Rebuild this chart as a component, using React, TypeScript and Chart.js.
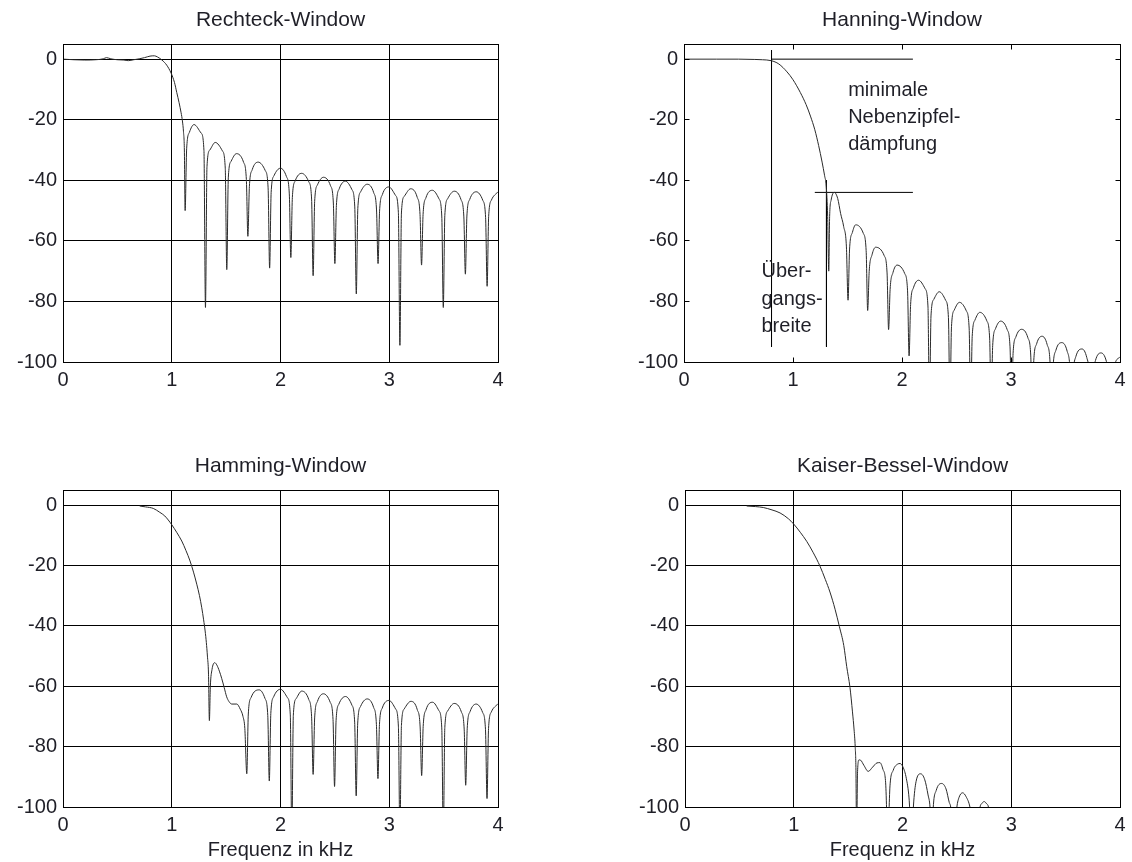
import { useEffect, useRef } from "react";
import { Chart, registerables } from "chart.js";

Chart.register(...registerables);

type Pt = [number, number];

// Axis layout: frequency in kHz, level in dB
const FREQ_TICKS = [0, 1, 2, 3, 4];
const LEVEL_TICKS = [-100, -80, -60, -40, -20, 0];

// Rectangular window response [kHz, dB]
const RECHTECK: Pt[] = [
  [0, 0], [0.05, -0.1], [0.1, -0.2], [0.2, -0.3], [0.3, -0.2], [0.37, 0.1], [0.4, 0.5], [0.44, 0.1],
  [0.5, -0.2], [0.56, -0.3], [0.6, -0.5], [0.65, -0.2], [0.7, 0.1], [0.75, 0.5], [0.8, 1.0], [0.84, 1.1],
  [0.87, 0.7], [0.91, -0.3], [0.954, -2], [0.994, -4.6], [1.025, -7.7], [1.046, -11], [1.067, -14.3],
  [1.086, -17.7], [1.098, -20.4], [1.108, -24], [1.116, -30], [1.123, -50],
  [1.137, -29.6], [1.163, -24.1], [1.205, -21.6], [1.27, -24.4], [1.296, -30.1], [1.31, -82],
  [1.324, -35.5], [1.35, -30], [1.4, -27.5], [1.466, -30.3], [1.492, -36], [1.506, -69.5],
  [1.52, -39.2], [1.546, -33.7], [1.595, -31.2], [1.66, -34], [1.686, -39.7], [1.7, -58.5],
  [1.714, -42], [1.74, -36.5], [1.795, -34], [1.86, -36.8], [1.886, -42.5], [1.9, -69],
  [1.914, -44], [1.94, -38.5], [2.0, -36], [2.055, -38.8], [2.081, -44.5], [2.095, -65.5],
  [2.109, -45.7], [2.135, -40.2], [2.195, -37.7], [2.26, -40.5], [2.286, -46.2], [2.3, -71.5],
  [2.314, -47], [2.34, -41.5], [2.395, -39], [2.46, -41.8], [2.486, -47.5], [2.5, -67.5],
  [2.514, -48.3], [2.54, -42.8], [2.597, -40.3], [2.657, -43.1], [2.683, -48.8], [2.697, -77.5],
  [2.711, -49.3], [2.737, -43.8], [2.797, -41.3], [2.857, -44.1], [2.883, -49.8], [2.897, -67.5],
  [2.911, -50.2], [2.937, -44.7], [2.997, -42.2], [3.058, -45], [3.084, -50.7], [3.098, -94.5],
  [3.112, -50.8], [3.138, -45.3], [3.197, -42.8], [3.257, -45.6], [3.283, -51.3], [3.297, -68],
  [3.311, -51.3], [3.337, -45.8], [3.397, -43.3], [3.457, -46.1], [3.483, -51.8], [3.497, -82],
  [3.511, -51.6], [3.537, -46.1], [3.598, -43.6], [3.66, -46.4], [3.686, -52.1], [3.7, -71],
  [3.714, -51.8], [3.74, -46.3], [3.8, -43.8], [3.86, -46.6], [3.886, -52.3], [3.9, -75],
  [3.914, -52], [3.94, -46.5], [4.0, -43.8],
];

// Hanning window response
const HANNING: Pt[] = [
  [0, 0], [0.3, 0], [0.5, 0], [0.65, -0.1], [0.72, -0.2], [0.8, -0.5], [0.87, -1.6], [0.945, -4.2],
  [1.0, -6.8], [1.067, -11], [1.12, -15], [1.16, -18.8], [1.2, -23.3], [1.235, -28.5], [1.267, -34],
  [1.29, -38.5], [1.305, -42], [1.318, -52], [1.328, -70],
  [1.336, -52], [1.35, -46.5], [1.378, -44], [1.41, -46], [1.437, -51], [1.465, -55.3], [1.49, -62], [1.505, -79.6],
  [1.519, -62.7], [1.545, -57.2], [1.575, -54.7], [1.645, -57.5], [1.671, -63.2], [1.685, -83],
  [1.699, -70.1], [1.725, -64.6], [1.758, -62.1], [1.837, -64.9], [1.863, -70.6], [1.877, -89.3],
  [1.891, -76], [1.917, -70.5], [1.955, -68], [2.025, -70.8], [2.051, -76.5], [2.065, -98],
  [2.079, -81], [2.105, -75.5], [2.152, -73], [2.212, -75.8], [2.238, -81.5], [2.252, -115],
  [2.266, -84.8], [2.292, -79.3], [2.342, -76.8], [2.4, -79.6], [2.426, -85.3], [2.44, -115],
  [2.454, -88.3], [2.48, -82.8], [2.527, -80.3], [2.59, -83.1], [2.616, -88.8], [2.63, -115],
  [2.644, -91.6], [2.67, -86.1], [2.714, -83.6], [2.778, -86.4], [2.804, -92.1], [2.818, -115],
  [2.832, -94.5], [2.858, -89], [2.905, -86.5], [2.965, -89.3], [2.991, -95], [3.005, -115],
  [3.019, -97.2], [3.045, -91.7], [3.097, -89.2], [3.155, -92], [3.181, -97.7], [3.195, -115],
  [3.209, -99.5], [3.235, -94], [3.285, -91.5], [3.332, -94.3], [3.358, -100], [3.372, -115],
  [3.386, -101.6], [3.412, -96.1], [3.467, -93.6], [3.515, -96.4], [3.541, -102.1], [3.555, -115],
  [3.569, -103.7], [3.595, -98.2], [3.652, -95.7], [3.695, -98.5], [3.721, -104.2], [3.735, -115],
  [3.749, -105], [3.775, -99.5], [3.825, -97], [3.875, -99.8], [3.901, -105.5], [3.915, -115],
  [3.929, -106], [3.955, -100.5], [4.0, -98.3],
];

// Hamming window response
const HAMMING: Pt[] = [
  [0.705, -0.3], [0.76, -0.6], [0.83, -1.1], [0.89, -2.4], [0.936, -3.6], [1.0, -6.5], [1.045, -9],
  [1.092, -11.9], [1.13, -15], [1.168, -18.5], [1.2, -22.2], [1.23, -26.2], [1.255, -30], [1.276, -34],
  [1.293, -38], [1.307, -41.7], [1.318, -45.5], [1.328, -50], [1.338, -56], [1.346, -71.4],
  [1.355, -60], [1.37, -54.5], [1.395, -52.2], [1.415, -53], [1.438, -55], [1.46, -57.5], [1.482, -60.4],
  [1.505, -63.5], [1.525, -65], [1.552, -65.9], [1.598, -65.9], [1.63, -67.6], [1.655, -70], [1.672, -74], [1.69, -89],
  [1.704, -69.2], [1.73, -63.7], [1.805, -61.2], [1.857, -64], [1.883, -69.7], [1.897, -91.4],
  [1.911, -69], [1.937, -63.5], [2.0, -61], [2.064, -63.8], [2.09, -69.5], [2.104, -110],
  [2.118, -69.6], [2.144, -64.1], [2.195, -61.6], [2.26, -64.4], [2.286, -70.1], [2.3, -89.2],
  [2.314, -70.5], [2.34, -65], [2.395, -62.5], [2.457, -65.3], [2.483, -71], [2.497, -93.2],
  [2.511, -71.4], [2.537, -65.9], [2.598, -63.4], [2.656, -66.2], [2.682, -71.9], [2.696, -96.3],
  [2.71, -72.2], [2.736, -66.7], [2.797, -64.2], [2.856, -67], [2.882, -72.7], [2.896, -90.6],
  [2.91, -72.7], [2.936, -67.2], [2.998, -64.7], [3.058, -67.5], [3.084, -73.2], [3.098, -110],
  [3.112, -73], [3.138, -67.5], [3.199, -65], [3.258, -67.8], [3.284, -73.5], [3.298, -89.6],
  [3.312, -73.3], [3.338, -67.8], [3.399, -65.3], [3.457, -68.1], [3.483, -73.8], [3.497, -110],
  [3.511, -73.7], [3.537, -68.2], [3.597, -65.7], [3.663, -68.5], [3.689, -74.2], [3.703, -92.8],
  [3.717, -73.9], [3.743, -68.4], [3.799, -65.9], [3.859, -68.7], [3.885, -74.4], [3.899, -97.2],
  [3.913, -74], [3.939, -68.5], [4.0, -65.8],
];

// Kaiser-Bessel window response
const KAISER: Pt[] = [
  [0.567, -0.3], [0.65, -0.5], [0.72, -0.8], [0.8, -1.6], [0.874, -2.6], [0.95, -4.5], [1.0, -6.3],
  [1.06, -9], [1.119, -12], [1.18, -15.8], [1.241, -20.2], [1.29, -24.6], [1.333, -28.8], [1.38, -34.5],
  [1.42, -40.3], [1.46, -46.5], [1.487, -53.5], [1.517, -60.4], [1.54, -68.5], [1.555, -74.5],
  [1.565, -80], [1.572, -88], [1.578, -112],
  [1.586, -89], [1.6, -84.4], [1.615, -84.5], [1.645, -86.2], [1.685, -88.2], [1.725, -86.8],
  [1.765, -85.4], [1.792, -85.3], [1.82, -87.5], [1.845, -92], [1.865, -110],
  [1.885, -93], [1.915, -87.8], [1.955, -85.8], [1.977, -85.6], [2.005, -86.8], [2.035, -90.5], [2.06, -97], [2.085, -112],
  [2.1, -100], [2.125, -91.5], [2.167, -89], [2.205, -91], [2.235, -96], [2.253, -100], [2.27, -112],
  [2.283, -100], [2.31, -94.5], [2.36, -92.2], [2.4, -94], [2.43, -98.5], [2.443, -100], [2.47, -112],
  [2.5, -100], [2.52, -96.8], [2.553, -95.3], [2.585, -96.6], [2.62, -100], [2.67, -112],
  [2.713, -100], [2.73, -98.8], [2.752, -98.2], [2.775, -99], [2.79, -100], [2.82, -112],
];

// Hanning markings: transition width and minimum sidelobe attenuation
const TRANSITION_START: Pt[] = [[0.803, 3], [0.803, -95]];
const TRANSITION_END: Pt[] = [[1.307, -40], [1.307, -95]];
const PASSBAND_LEVEL: Pt[] = [[0.803, 0], [2.1, 0]];
const SIDELOBE_LEVEL: Pt[] = [[1.2, -44], [2.1, -44]];
const SIDELOBE_TEXT = ["minimale", "Nebenzipfel-", "dämpfung"];
const SIDELOBE_TEXT_X = 1.506;
const SIDELOBE_TEXT_Y = [-10.5, -19.3, -28.2];
const TRANSITION_TEXT = ["Über-", "gangs-", "breite"];
const TRANSITION_TEXT_X = 0.711;
const TRANSITION_TEXT_Y = [-70.1, -79.3, -88.3];

const FONT = "'Liberation Sans', Arial, Helvetica, sans-serif";
const INK = "#1f1f27";
const CURVE = "#2a2a2a";

Chart.defaults.font.family = FONT;

type Note = { lines: string[]; x: number; ys: number[] };

type PanelProps = {
  title: string;
  curve: Pt[];
  left: number;
  top: number;
  width: number;
  height: number;
  padRight: number;
  axisHeight: number;
  grid: boolean;
  xTitle?: string;
  marks?: Pt[][];
  notes?: Note[];
};

const align = (v: number) => Math.round(v - 0.5) + 0.5;

function Panel(p: PanelProps) {
  const ref = useRef<HTMLCanvasElement>(null);

  useEffect(() => {
    const canvas = ref.current;
    if (!canvas) return;
    const toXY = (pts: Pt[]) => pts.map(([x, y]) => ({ x, y }));

    // Frame around the plot area, inward tick marks (no grid) and text notes
    const decorations = {
      id: "decorations",
      afterDraw(chart: any) {
        const { ctx, chartArea: a, scales } = chart;
        const sx = scales.x;
        const sy = scales.y;
        ctx.save();
        ctx.strokeStyle = "#000";
        ctx.lineWidth = 1;
        const l = align(a.left), r = align(a.right), t = align(a.top), b = align(a.bottom);
        ctx.strokeRect(l, t, r - l, b - t);
        if (!p.grid) {
          const len = 5;
          ctx.beginPath();
          for (const v of FREQ_TICKS) {
            const px = align(sx.getPixelForValue(v));
            ctx.moveTo(px, b);
            ctx.lineTo(px, b - len);
            ctx.moveTo(px, t);
            ctx.lineTo(px, t + len);
          }
          for (const v of LEVEL_TICKS) {
            const py = align(sy.getPixelForValue(v));
            ctx.moveTo(l, py);
            ctx.lineTo(l + len, py);
            ctx.moveTo(r, py);
            ctx.lineTo(r - len, py);
          }
          ctx.stroke();
        }
        if (p.notes) {
          ctx.fillStyle = INK;
          ctx.font = `20px ${FONT}`;
          ctx.textAlign = "left";
          ctx.textBaseline = "middle";
          for (const n of p.notes) {
            n.lines.forEach((line, i) => {
              ctx.fillText(line, sx.getPixelForValue(n.x), sy.getPixelForValue(n.ys[i]));
            });
          }
        }
        ctx.restore();
      },
    };

    const chart = new Chart(canvas, {
      type: "line",
      data: {
        datasets: [
          {
            data: toXY(p.curve),
            borderColor: CURVE,
            borderWidth: 1,
            pointRadius: 0,
            cubicInterpolationMode: "monotone",
          },
          ...(p.marks ?? []).map((m) => ({
            data: toXY(m),
            borderColor: "#000",
            borderWidth: 1,
            pointRadius: 0,
            tension: 0,
          })),
        ],
      },
      options: {
        animation: false,
        responsive: false,
        events: [],
        layout: { padding: { top: 0, left: 0, right: p.padRight, bottom: 0 } },
        plugins: {
          legend: { display: false },
          tooltip: { enabled: false },
          title: {
            display: true,
            text: p.title,
            color: INK,
            fullSize: false,
            font: { size: 21, weight: "normal", lineHeight: 24 / 21 },
            padding: { top: 8, bottom: 12 },
          },
        },
        scales: {
          x: {
            type: "linear",
            min: 0,
            max: 4,
            afterBuildTicks: (s: any) => {
              s.ticks = FREQ_TICKS.map((value) => ({ value }));
            },
            afterFit: (s: any) => {
              s.height = p.axisHeight;
            },
            ticks: {
              autoSkip: false,
              maxRotation: 0,
              padding: 6,
              color: INK,
              font: { size: 20 },
              callback: (v: any) => String(v),
            },
            grid: { display: p.grid, color: "#000", lineWidth: 1, drawTicks: false },
            border: { display: false },
            title: p.xTitle
              ? {
                  display: true,
                  text: p.xTitle,
                  color: INK,
                  font: { size: 20 },
                  padding: { top: 0, bottom: 0 },
                }
              : { display: false },
          },
          y: {
            type: "linear",
            min: -100,
            max: 5,
            afterBuildTicks: (s: any) => {
              s.ticks = LEVEL_TICKS.map((value) => ({ value }));
            },
            afterFit: (s: any) => {
              s.width = 63;
            },
            ticks: {
              padding: 6,
              color: INK,
              font: { size: 20 },
              callback: (v: any) => String(v),
            },
            grid: { display: p.grid, color: "#000", lineWidth: 1, drawTicks: false },
            border: { display: false },
          },
        },
      },
      plugins: [decorations],
    } as any);

    return () => chart.destroy();
  }, [p]);

  return (
    <canvas
      ref={ref}
      width={p.width}
      height={p.height}
      style={{ position: "absolute", left: p.left, top: p.top, width: p.width, height: p.height }}
    />
  );
}

const HANNING_MARKS = [TRANSITION_START, TRANSITION_END, PASSBAND_LEVEL, SIDELOBE_LEVEL];
const HANNING_NOTES: Note[] = [
  { lines: SIDELOBE_TEXT, x: SIDELOBE_TEXT_X, ys: SIDELOBE_TEXT_Y },
  { lines: TRANSITION_TEXT, x: TRANSITION_TEXT_X, ys: TRANSITION_TEXT_Y },
];

const PANELS: PanelProps[] = [
  { title: "Rechteck-Window", curve: RECHTECK, left: 0, top: 0, width: 520, height: 400, padRight: 22, axisHeight: 38, grid: true },
  {
    title: "Hanning-Window", curve: HANNING, left: 621, top: 0, width: 511, height: 400, padRight: 12, axisHeight: 38, grid: false,
    marks: HANNING_MARKS, notes: HANNING_NOTES,
  },
  { title: "Hamming-Window", curve: HAMMING, left: 0, top: 446, width: 520, height: 416, padRight: 22, axisHeight: 55, grid: true, xTitle: "Frequenz in kHz" },
  { title: "Kaiser-Bessel-Window", curve: KAISER, left: 622, top: 446, width: 510, height: 416, padRight: 12, axisHeight: 55, grid: true, xTitle: "Frequenz in kHz" },
];

export default function App() {
  return (
    <div style={{ position: "fixed", left: 0, top: 0, width: 1132, height: 862, background: "#fff", overflow: "hidden" }}>
      {PANELS.map((panel) => (
        <Panel key={panel.title} {...panel} />
      ))}
    </div>
  );
}
